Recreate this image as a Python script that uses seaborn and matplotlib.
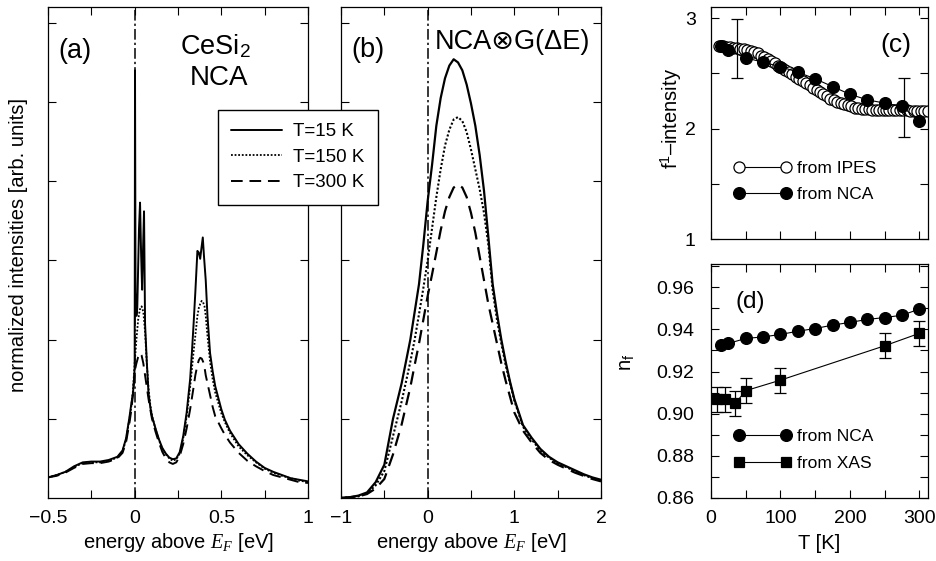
import matplotlib
matplotlib.use("Agg")
import matplotlib.pyplot as plt
from matplotlib.ticker import FixedLocator, NullFormatter, FixedFormatter
import seaborn as sns
import pandas as pd

# ---------------- data ----------------
# panel (a): NCA spectra of CeSi2
E_A15 = [-0.5, -0.45, -0.4, -0.35, -0.3, -0.25, -0.2, -0.15, -0.1,
         -0.07, -0.05, -0.03, -0.02, -0.01, -0.005, 0.0,
         0.002, 0.005, 0.01, 0.015, 0.02, 0.025, 0.031, 0.037, 0.043, 0.049, 0.054,
         0.06, 0.07, 0.08, 0.09, 0.1,
         0.12, 0.14, 0.16, 0.18, 0.2, 0.22, 0.24, 0.26, 0.28, 0.3,
         0.32, 0.33, 0.34, 0.35,
         0.362, 0.37, 0.378, 0.385, 0.393, 0.4,
         0.41, 0.42, 0.435, 0.45, 0.465,
         0.5, 0.52, 0.55, 0.6, 0.65, 0.7, 0.75, 0.8, 0.85, 0.9, 0.95, 1.0]
I_A15 = [0.26, 0.29, 0.33, 0.40, 0.45, 0.46, 0.46, 0.48, 0.52,
         0.60, 0.75, 1.02, 1.18, 1.32, 1.45, 1.65,
         5.40, 2.6, 2.3, 2.4, 2.9, 3.4, 3.73, 3.1, 2.63, 3.2, 3.62,
         2.2, 1.72, 1.32, 1.15, 1.03,
         0.88, 0.74, 0.63, 0.56, 0.51, 0.49, 0.50, 0.58, 0.78, 1.08,
         1.5, 1.83, 2.2, 2.6,
         3.12, 3.10, 3.02, 3.15, 3.29, 3.05,
         2.75, 2.3, 1.83, 1.6, 1.41,
         1.12, 0.99, 0.85, 0.68, 0.56, 0.46, 0.38, 0.33, 0.29, 0.25, 0.23, 0.21]

E_AS = [-0.5, -0.45, -0.4, -0.35, -0.3, -0.25, -0.2, -0.15, -0.1,
        -0.07, -0.05, -0.03, -0.02, -0.01, 0.0,
        0.01, 0.02, 0.03, 0.04, 0.05, 0.06, 0.07, 0.08, 0.09, 0.1,
        0.12, 0.14, 0.16, 0.18, 0.2, 0.22, 0.24, 0.26, 0.28, 0.3,
        0.32, 0.34, 0.35,
        0.362, 0.37, 0.378, 0.387, 0.395, 0.403,
        0.41, 0.42, 0.435, 0.45, 0.465,
        0.5, 0.52, 0.55, 0.6, 0.65, 0.7, 0.75, 0.8, 0.85, 0.9, 0.95, 1.0]
I_A150 = [0.26, 0.29, 0.33, 0.39, 0.44, 0.45, 0.45, 0.47, 0.51,
          0.59, 0.73, 1.0, 1.15, 1.35, 1.7,
          2.0, 2.25, 2.38, 2.42, 2.35, 2.1, 1.7, 1.38, 1.18, 1.04,
          0.87, 0.73, 0.62, 0.55, 0.50, 0.47, 0.49, 0.56, 0.75, 1.03,
          1.4, 1.85, 2.05,
          2.3, 2.4, 2.45, 2.49, 2.47, 2.42,
          2.3, 2.05, 1.72, 1.5, 1.33,
          1.07, 0.96, 0.82, 0.65, 0.54, 0.45, 0.37, 0.32, 0.28, 0.25, 0.22, 0.20]
I_A300 = [0.26, 0.28, 0.32, 0.38, 0.43, 0.44, 0.44, 0.46, 0.50,
          0.57, 0.70, 0.95, 1.1, 1.3, 1.6,
          1.70, 1.78, 1.83, 1.80, 1.70, 1.55, 1.40, 1.25, 1.12, 1.0,
          0.84, 0.70, 0.58, 0.50, 0.45, 0.43, 0.45, 0.53, 0.68, 0.88,
          1.12, 1.40, 1.55,
          1.68, 1.74, 1.77, 1.76, 1.72, 1.65,
          1.55, 1.45, 1.3, 1.15, 1.03,
          0.88, 0.80, 0.70, 0.57, 0.47, 0.40, 0.34, 0.29, 0.26, 0.23, 0.20, 0.19]

# panel (b): NCA convoluted with Gaussian
E_B = [-1.0, -0.9, -0.8, -0.7, -0.6, -0.5, -0.4, -0.3, -0.2,
       -0.15, -0.1, -0.05, 0.0,
       0.05, 0.1, 0.15, 0.2, 0.25, 0.3, 0.35, 0.4, 0.45, 0.5,
       0.55, 0.6, 0.65, 0.7, 0.75, 0.8, 0.85, 0.9, 0.95, 1.0,
       1.1, 1.2, 1.3, 1.4, 1.5, 1.6, 1.7, 1.8, 1.9, 2.0]
I_B15 = [0.0, 0.01, 0.03, 0.07, 0.2, 0.42, 1.0, 1.45, 2.0,
         2.35, 2.7, 3.2, 3.75,
         4.2, 4.7, 5.05, 5.3, 5.46, 5.54, 5.50, 5.40, 5.22, 4.98,
         4.70, 4.33, 3.88, 3.3, 2.7, 2.33, 2.0, 1.72, 1.47, 1.25,
         0.92, 0.76, 0.62, 0.52, 0.45, 0.40, 0.35, 0.30, 0.26, 0.23]
I_B150 = [0.0, 0.01, 0.02, 0.06, 0.16, 0.34, 0.78, 1.22, 1.72,
          2.0, 2.32, 2.65, 3.0,
          3.4, 3.8, 4.15, 4.45, 4.65, 4.78, 4.81, 4.76, 4.62, 4.4,
          4.15, 3.9, 3.6, 3.2, 2.62, 2.25, 1.95, 1.68, 1.45, 1.23,
          0.90, 0.74, 0.60, 0.51, 0.44, 0.39, 0.34, 0.29, 0.25, 0.22]
I_B300 = [0.0, 0.01, 0.02, 0.05, 0.12, 0.24, 0.55, 0.93, 1.4,
          1.68, 1.95, 2.25, 2.55,
          2.82, 3.1, 3.38, 3.62, 3.8, 3.92, 3.96, 3.92, 3.8, 3.6,
          3.35, 3.05, 2.75, 2.45, 2.2, 1.95, 1.7, 1.48, 1.28, 1.08,
          0.85, 0.70, 0.57, 0.48, 0.42, 0.37, 0.32, 0.28, 0.24, 0.21]

# panel (c): f1 intensity vs T
T_IPES = [12, 17, 22, 27, 32, 37, 42, 47, 52, 57, 62, 67, 72, 77, 82, 87, 92, 97,
          102, 107, 112, 117, 122, 127, 132, 137, 142, 147, 152, 157, 162, 167,
          172, 177, 182, 187, 192, 197, 202, 207, 212, 217, 222, 227, 232, 237,
          242, 247, 252, 257, 262, 267, 272, 277, 282, 287, 292, 297, 302, 307, 312]
F_IPES = [2.75, 2.75, 2.74, 2.74, 2.73, 2.73, 2.72, 2.72, 2.71, 2.70, 2.69, 2.68,
          2.66, 2.65, 2.63, 2.61, 2.59, 2.57, 2.55, 2.53, 2.51, 2.49, 2.47, 2.45,
          2.43, 2.41, 2.39, 2.37, 2.35, 2.33, 2.31, 2.29, 2.27, 2.26, 2.24, 2.23,
          2.22, 2.21, 2.20, 2.19, 2.19, 2.18, 2.18, 2.18, 2.17, 2.17, 2.17, 2.17,
          2.17, 2.17, 2.17, 2.17, 2.17, 2.17, 2.17, 2.16, 2.16, 2.16, 2.16, 2.16, 2.16]
T_NCA = [15, 25, 50, 75, 100, 125, 150, 175, 200, 225, 250, 275, 300]
F_NCA = [2.75, 2.71, 2.64, 2.60, 2.56, 2.51, 2.45, 2.38, 2.31, 2.26, 2.23, 2.20, 2.07]
T_FERR = [37, 278]
F_FERR = [2.725, 2.19]
F_ERR = [0.265, 0.27]

# panel (d): nf vs T
NF_NCA = [0.9325, 0.9333, 0.9357, 0.9364, 0.9376, 0.9391, 0.9404, 0.9420,
          0.9433, 0.9447, 0.9456, 0.9467, 0.9496]
T_XAS = [8, 20, 35, 50, 100, 250, 300]
NF_XAS = [0.9068, 0.9068, 0.9049, 0.9109, 0.9159, 0.9322, 0.9381]
NF_XAS_ERR = [0.006, 0.006, 0.006, 0.006, 0.006, 0.006, 0.006]

# tick labels
XT_A = [-0.5, 0, 0.5, 1]
XL_A = ["\u22120.5", "0", "0.5", "1"]
XT_B = [-1, 0, 1, 2]
XL_B = ["\u22121", "0", "1", "2"]
YT_C = [1, 2, 3]
YL_C = ["1", "2", "3"]
XT_D = [0, 100, 200, 300]
XL_D = ["0", "100", "200", "300"]
YT_D = [0.86, 0.88, 0.90, 0.92, 0.94, 0.96]
YL_D = ["0.86", "0.88", "0.90", "0.92", "0.94", "0.96"]
LEG_T = ["T=15 K", "T=150 K", "T=300 K"]

# ---------------- style ----------------
sns.set_theme(style="ticks")
plt.rcParams.update({
    "font.family": ["Liberation Sans", "DejaVu Sans"],
    "mathtext.fontset": "custom",
    "mathtext.rm": "Liberation Sans",
    "mathtext.sf": "Liberation Sans",
    "mathtext.it": "Liberation Serif:italic",
    "mathtext.bf": "Liberation Sans:bold",
    "axes.edgecolor": "black",
    "axes.linewidth": 0.9,
    "text.color": "black",
    "axes.labelcolor": "black",
    "xtick.color": "black",
    "ytick.color": "black",
})

W, H = 936, 561
fig = plt.figure(figsize=(W / 100, H / 100), dpi=100)


def px_axes(l, t, r, b):
    return fig.add_axes([l / W, 1 - b / H, (r - l) / W, (b - t) / H])


def ftext(x, y, s, **kw):
    fig.text(x / W, 1 - y / H, s, **kw)


ax_a = px_axes(48, 7, 308, 498)
ax_b = px_axes(341, 7, 601, 498)
ax_c = px_axes(711, 7, 928, 239)
ax_d = px_axes(711, 264, 928, 498)

for ax in (ax_a, ax_b, ax_c, ax_d):
    ax.tick_params(which="both", direction="in", top=True, right=True,
                   labelsize=14, width=0.8)
    ax.tick_params(axis="x", which="both", pad=8.5)
    ax.tick_params(axis="y", which="both", pad=12)
    ax.tick_params(which="major", length=6)
    ax.tick_params(which="minor", length=6)
    for s in ax.spines.values():
        s.set_color("black")
        s.set_linewidth(0.9)
ax_c.tick_params(axis="y", which="both", pad=11)

LS_SOLID = "-"
LS_DOT = (0, (1.0, 1.0))
LS_DASH = (0, (6.0, 3.5))
LS_DASHDOT = (0, (7, 2, 1.5, 2))

# ---- panel (a)
sns.lineplot(x=E_A15, y=I_A15, ax=ax_a, color="black", lw=1.4, linestyle=LS_SOLID, sort=False)
sns.lineplot(x=E_AS, y=I_A150, ax=ax_a, color="black", lw=1.3, linestyle=LS_DOT, sort=False)
sns.lineplot(x=E_AS, y=I_A300, ax=ax_a, color="black", lw=1.4, linestyle=LS_DASH, sort=False)
ax_a.axvline(0, color="black", lw=1.1, linestyle=LS_DASHDOT)
ax_a.set_xlim(-0.5, 1.0)
ax_a.set_ylim(0, 6.2)
ax_a.xaxis.set_major_locator(FixedLocator(XT_A))
ax_a.xaxis.set_major_formatter(FixedFormatter(XL_A))
ax_a.xaxis.set_minor_locator(FixedLocator([-0.25, 0.25, 0.75]))
ax_a.yaxis.set_major_locator(FixedLocator([1, 2, 3, 4, 5, 6]))
ax_a.yaxis.set_major_formatter(NullFormatter())
ax_a.set_xlabel("energy above $E_F$ [eV]", fontsize=14.5)
ax_a.set_ylabel("normalized intensities [arb. units]", fontsize=14.5)
ax_a.xaxis.set_label_coords(0.5, -0.068)
ax_a.yaxis.set_label_coords(-0.078, 0.515)

# ---- panel (b)
sns.lineplot(x=E_B, y=I_B15, ax=ax_b, color="black", lw=1.6, linestyle=LS_SOLID, sort=False)
sns.lineplot(x=E_B, y=I_B150, ax=ax_b, color="black", lw=1.5, linestyle=LS_DOT, sort=False)
sns.lineplot(x=E_B, y=I_B300, ax=ax_b, color="black", lw=1.6, linestyle=LS_DASH, sort=False)
ax_b.axvline(0, color="black", lw=1.1, linestyle=LS_DASHDOT)
ax_b.set_xlim(-1, 2)
ax_b.set_ylim(0, 6.2)
ax_b.xaxis.set_major_locator(FixedLocator(XT_B))
ax_b.xaxis.set_major_formatter(FixedFormatter(XL_B))
ax_b.xaxis.set_minor_locator(FixedLocator([-0.5, 0.5, 1.5]))
ax_b.yaxis.set_major_locator(FixedLocator([1, 2, 3, 4, 5, 6]))
ax_b.yaxis.set_major_formatter(NullFormatter())
ax_b.set_xlabel("energy above $E_F$ [eV]", fontsize=14.5)
ax_b.set_ylabel("")
ax_b.xaxis.set_label_coords(0.5, -0.068)

# ---- panel (c)
sns.lineplot(x=T_IPES, y=F_IPES, ax=ax_c, color="black", lw=0.8, marker="o",
             markersize=8, markerfacecolor="white", markeredgecolor="black",
             markeredgewidth=0.9, sort=False)
sns.lineplot(x=T_NCA, y=F_NCA, ax=ax_c, color="black", lw=0.8, marker="o",
             markersize=8.5, markerfacecolor="black", markeredgecolor="black",
             markeredgewidth=0.9, sort=False)
h_ipes, h_nca_c = ax_c.lines[0], ax_c.lines[1]
ax_c.errorbar(T_FERR, F_FERR, yerr=F_ERR, fmt="none", ecolor="black",
              elinewidth=0.9, capsize=4, capthick=0.9)
ax_c.set_xlim(0, 312.5)
ax_c.set_ylim(1, 3.1)
ax_c.xaxis.set_major_locator(FixedLocator([0, 50, 100, 150, 200, 250, 300]))
ax_c.xaxis.set_major_formatter(NullFormatter())
ax_c.yaxis.set_major_locator(FixedLocator(YT_C))
ax_c.yaxis.set_major_formatter(FixedFormatter(YL_C))
ax_c.yaxis.set_minor_locator(FixedLocator([1.5, 2.5]))
ax_c.set_ylabel("f$^1$\u2013intensity", fontsize=14.5)
ax_c.yaxis.set_label_coords(-0.126, 0.52)
ax_c.legend([h_ipes, h_nca_c], ["from IPES", "from NCA"], numpoints=2,
            frameon=False, fontsize=12.5, handlelength=3.3, handletextpad=0.35,
            labelspacing=0.62, borderpad=0, borderaxespad=0, loc="upper left",
            bbox_to_anchor=(734 / W, 1 - 161 / H), bbox_transform=fig.transFigure)

# ---- panel (d)
sns.lineplot(x=T_NCA, y=NF_NCA, ax=ax_d, color="black", lw=0.8, marker="o",
             markersize=8.5, markerfacecolor="black", markeredgecolor="black",
             markeredgewidth=0.9, sort=False)
sns.lineplot(x=T_XAS, y=NF_XAS, ax=ax_d, color="black", lw=0.8, marker="s",
             markersize=7.5, markerfacecolor="black", markeredgecolor="black",
             markeredgewidth=0.9, sort=False)
h_nca_d, h_xas = ax_d.lines[0], ax_d.lines[1]
ax_d.errorbar(T_XAS, NF_XAS, yerr=NF_XAS_ERR, fmt="none", ecolor="black",
              elinewidth=0.9, capsize=4.5, capthick=0.9)
ax_d.set_xlim(0, 312.5)
ax_d.set_ylim(0.86, 0.971)
ax_d.xaxis.set_major_locator(FixedLocator(XT_D))
ax_d.xaxis.set_major_formatter(FixedFormatter(XL_D))
ax_d.xaxis.set_minor_locator(FixedLocator([50, 150, 250]))
ax_d.yaxis.set_major_locator(FixedLocator(YT_D))
ax_d.yaxis.set_major_formatter(FixedFormatter(YL_D))
ax_d.yaxis.set_minor_locator(FixedLocator([0.87, 0.89, 0.91, 0.93, 0.95, 0.97]))
ax_d.set_xlabel("T [K]", fontsize=14.5)
ax_d.xaxis.set_label_coords(0.5, -0.155)
ax_d.set_ylabel("n$_\\mathrm{f}$", fontsize=14.5)
ax_d.yaxis.set_label_coords(-0.345, 0.58)
ax_d.legend([h_nca_d, h_xas], ["from NCA", "from XAS"], numpoints=2,
            frameon=False, fontsize=12.5, handlelength=3.3, handletextpad=0.35,
            labelspacing=0.72, borderpad=0, borderaxespad=0, loc="upper left",
            bbox_to_anchor=(734 / W, 1 - 428.5 / H), bbox_transform=fig.transFigure)

# ---- legend of (a)/(b)
la = ax_a.lines
fig.legend([la[0], la[1], la[2]], LEG_T, loc="upper left",
           bbox_to_anchor=(218 / W, 1 - 110 / H), bbox_transform=fig.transFigure,
           fontsize=13.5, handlelength=2.7, handletextpad=0.6, labelspacing=0.45,
           borderpad=0.7, borderaxespad=0, fancybox=False, framealpha=1,
           edgecolor="black", facecolor="white")

# ---- panel texts
ftext(75, 58, "(a)", fontsize=19.5, ha="center", va="baseline")
ftext(215, 54, "CeSi$_2$", fontsize=19.5, ha="center", va="baseline")
ftext(219, 85, "NCA", fontsize=20, ha="center", va="baseline")
ftext(368, 57, "(b)", fontsize=19.5, ha="center", va="baseline")
ftext(512, 49, "NCA\u2297G(\u0394E)", fontsize=19.5, ha="center", va="baseline")
ftext(896, 52, "(c)", fontsize=19, ha="center", va="baseline")
ftext(750, 308, "(d)", fontsize=17.5, ha="center", va="baseline")

fig.savefig("out.png", dpi=100)
